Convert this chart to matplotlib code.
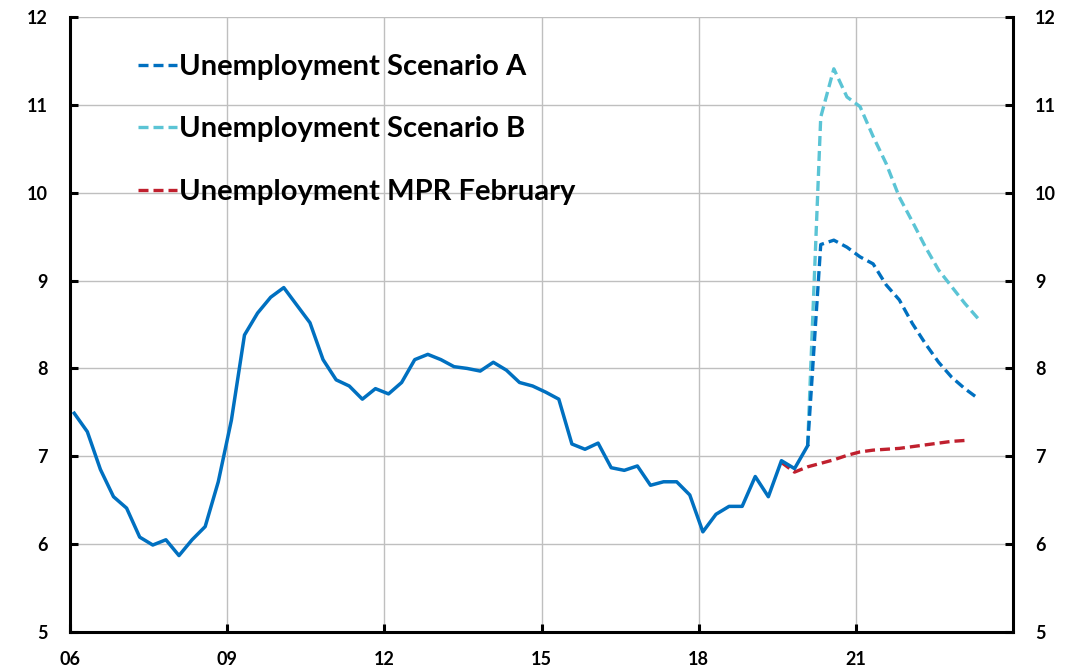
import numpy as np
import matplotlib.pyplot as plt
from matplotlib.ticker import FixedLocator

plt.rcParams['font.family'] = ['Lato', 'DejaVu Sans']
plt.rcParams['font.weight'] = 'bold'

# quarterly data, 2006Q1 - 2020Q1 (history)
hist_start = 2006.08
unemployment = [7.49, 7.28, 6.85, 6.54, 6.41, 6.08, 5.99, 6.05, 5.87, 6.05,
                6.20, 6.71, 7.41, 8.38, 8.63, 8.81, 8.92, 8.72, 8.52, 8.10,
                7.87, 7.80, 7.65, 7.77, 7.71, 7.84, 8.10, 8.16, 8.10, 8.02,
                8.00, 7.97, 8.07, 7.98, 7.84, 7.80, 7.73, 7.65, 7.14, 7.08,
                7.15, 6.87, 6.84, 6.89, 6.67, 6.71, 6.71, 6.56, 6.14, 6.34,
                6.43, 6.43, 6.77, 6.54, 6.95, 6.86, 7.12]

# projections from 2020Q1 onwards
scenario_a = [7.12, 9.41, 9.46, 9.38, 9.27, 9.19, 8.95, 8.78, 8.51, 8.28,
              8.07, 7.90, 7.77, 7.66]
scenario_b = [7.12, 10.86, 11.41, 11.09, 10.98, 10.64, 10.33, 9.95, 9.67, 9.38,
              9.12, 8.93, 8.74, 8.57]
# MPR February starts at 2019Q3
mpr_feb = [6.93, 6.82, 6.88, 6.92, 6.96, 7.01, 7.05, 7.07, 7.08, 7.09,
           7.11, 7.13, 7.15, 7.17, 7.18]

x_ticks = [2006, 2009, 2012, 2015, 2018, 2021]
x_labels = ['06', '09', '12', '15', '18', '21']

t_hist = hist_start + 0.25 * np.arange(len(unemployment))
t_fc = t_hist[-1] + 0.25 * np.arange(len(scenario_a))
t_mpr = t_hist[-3] + 0.25 * np.arange(len(mpr_feb))

dark_blue = '#0070C0'
light_blue = '#5BC4D5'
red = '#C0202E'
dash = (0, (3, 1.5))

fig = plt.figure(figsize=(10.74, 6.71), dpi=100)
ax = fig.add_axes([0.0652, 0.0581, 0.878, 0.9166])

ax.plot(t_mpr, mpr_feb, color=red, lw=2.4, ls=dash,
        label='Unemployment MPR February', zorder=3)
ax.plot(t_fc, scenario_b, color=light_blue, lw=2.4, ls=dash,
        label='Unemployment Scenario B', zorder=4)
ax.plot(t_fc, scenario_a, color=dark_blue, lw=2.4, ls=dash,
        label='Unemployment Scenario A', zorder=5)
ax.plot(t_hist, unemployment, color=dark_blue, lw=2.5, zorder=6)

ax.set_xlim(2006, 2024)
ax.set_ylim(5, 12)
ax.xaxis.set_major_locator(FixedLocator(x_ticks))
ax.set_xticklabels(x_labels)
ax.set_yticks(range(5, 13))

ax.grid(True, color='#BFBFBF', lw=1.0)
ax.set_axisbelow(True)

for side in ['left', 'bottom', 'right']:
    ax.spines[side].set_linewidth(2.2)
    ax.spines[side].set_color('black')
ax.spines['top'].set_visible(False)

ax.tick_params(axis='both', direction='in', length=6, width=2.2,
               labelsize=13, pad=16)
ax.tick_params(axis='y', right=True, labelright=True)
ax.tick_params(axis='x', pad=14)

handles, labels = ax.get_legend_handles_labels()
order = [2, 1, 0]
ax.legend([handles[i] for i in order], [labels[i] for i in order],
          loc='upper left', bbox_to_anchor=(0.072, 0.940), frameon=False,
          fontsize=21, handlelength=1.35, handletextpad=0.05,
          labelspacing=1.25, borderpad=0, borderaxespad=0)

fig.savefig('out.png', dpi=100)
